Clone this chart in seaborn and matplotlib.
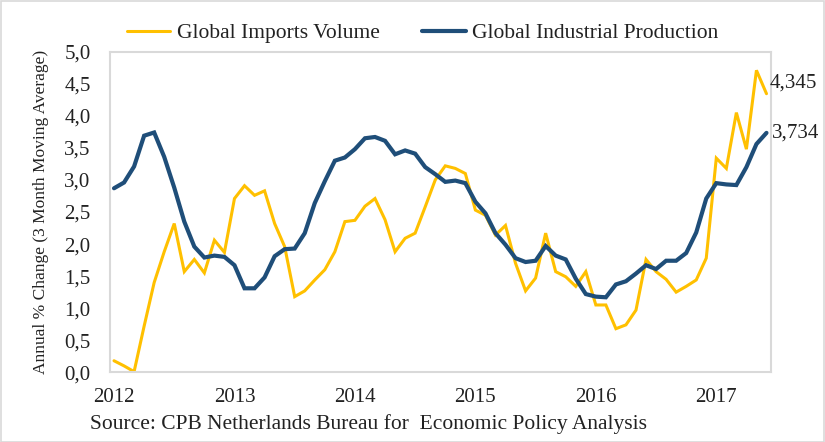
import numpy as np
import pandas as pd
import matplotlib
matplotlib.use("Agg")
import matplotlib.pyplot as plt
import seaborn as sns
from matplotlib.patches import Rectangle
from matplotlib.lines import Line2D

# ---- data (monthly, Jan 2012 - Jun 2017) ----
years = [2012, 2013, 2014, 2015, 2016, 2017]
imports_volume = [
    0.18, 0.10, 0.01, 0.72, 1.40, 1.88, 2.32, 1.57, 1.76, 1.55, 2.06, 1.87,
    2.71, 2.91, 2.76, 2.83, 2.32, 1.96, 1.18, 1.27, 1.44, 1.60, 1.88, 2.35,
    2.37, 2.59, 2.71, 2.38, 1.88, 2.09, 2.17, 2.58, 3.00, 3.22, 3.18, 3.10,
    2.53, 2.45, 2.14, 2.29, 1.70, 1.27, 1.47, 2.17, 1.57, 1.49, 1.34, 1.57,
    1.05, 1.05, 0.68, 0.74, 0.97, 1.76, 1.57, 1.45, 1.25, 1.34, 1.44, 1.78,
    3.34, 3.18, 4.05, 3.48, 4.71, 4.345,
]
industrial_production = [
    2.87, 2.96, 3.21, 3.69, 3.74, 3.36, 2.88, 2.35, 1.96, 1.79, 1.82, 1.80,
    1.67, 1.31, 1.31, 1.48, 1.81, 1.92, 1.93, 2.17, 2.64, 2.98, 3.30, 3.35,
    3.48, 3.65, 3.67, 3.61, 3.40, 3.46, 3.41, 3.20, 3.09, 2.97, 2.99, 2.95,
    2.66, 2.48, 2.17, 1.99, 1.78, 1.72, 1.74, 1.97, 1.82, 1.76, 1.46, 1.22,
    1.18, 1.17, 1.37, 1.42, 1.54, 1.67, 1.61, 1.74, 1.74, 1.86, 2.18, 2.71,
    2.95, 2.93, 2.92, 3.20, 3.56, 3.734,
]
series_names = ["Global Imports Volume", "Global Industrial Production"]
end_labels = ["4,345", "3,734"]
y_ticks = [0.0, 0.5, 1.0, 1.5, 2.0, 2.5, 3.0, 3.5, 4.0, 4.5, 5.0]

months = np.arange(len(imports_volume))
df = pd.DataFrame({
    "month": np.concatenate([months, months]),
    "value": imports_volume + industrial_production,
    "series": [series_names[0]] * len(months) + [series_names[1]] * len(months),
})

sns.set_theme(style="white")
plt.rcParams["font.family"] = ["Liberation Serif", "DejaVu Serif"]

colors = {series_names[0]: "#FFC000", series_names[1]: "#1F4E79"}
widths = {series_names[0]: 2.2, series_names[1]: 3.0}
txt = "#222222"

fig = plt.figure(figsize=(8.25, 4.42), dpi=100)
ax = fig.add_axes([110 / 825, 1 - 372.3 / 442, (771 - 110) / 825, (372.3 - 51.7) / 442])

sns.lineplot(data=df, x="month", y="value", hue="series", palette=colors,
             ax=ax, legend=False, estimator=None, sort=False)
for line, name in zip(ax.get_lines(), series_names):
    line.set_linewidth(widths[name])
    line.set_solid_joinstyle("miter")

ax.set_xlim(-0.4, 65.45)
ax.set_ylim(0, 5)
ax.set_xticks([12 * k for k in range(len(years))])
ax.set_xticklabels([str(y) for y in years])
ax.set_yticks(y_ticks)
ax.set_yticklabels([f"{v:.1f}".replace(".", ",") for v in y_ticks])
ax.tick_params(axis="x", length=0, pad=11, labelsize=15, colors=txt)
ax.tick_params(axis="y", length=0, pad=14, labelsize=15, colors=txt)
ax.set_xlabel("")
ax.set_ylabel("Annual % Change (3 Month Moving Average)", fontsize=12.5, color=txt, labelpad=11)
for sp in ax.spines.values():
    sp.set_color("#d9d9d9")
    sp.set_linewidth(1.5)
ax.grid(False)

# end labels
last = len(months) - 1
ax.annotate(end_labels[0], xy=(last, imports_volume[-1]), xytext=(2, 8),
            textcoords="offset points", fontsize=15, va="center", ha="left",
            color=txt, annotation_clip=False)
ax.annotate(end_labels[1], xy=(last, industrial_production[-1]), xytext=(4, 0),
            textcoords="offset points", fontsize=15, va="center", ha="left",
            color=txt, annotation_clip=False)

# legend
handles = [Line2D([], [], color=colors[n], lw=widths[n]) for n in series_names]
fig.legend(handles, series_names, loc="center left",
           bbox_to_anchor=(127 / 825, 1 - 33 / 442), ncol=2, frameon=False,
           fontsize=15.5, handlelength=2.0, handletextpad=0.3, columnspacing=2.0,
           borderaxespad=0, borderpad=0, labelcolor=txt)

fig.text(90 / 825, 1 - 424 / 442, "Source: CPB Netherlands Bureau for  Economic Policy Analysis",
         fontsize=15.5, va="center", ha="left", color=txt)

fig.patches.append(Rectangle((0.5 / 825, 0.5 / 442), 1 - 1.5 / 825, 1 - 1.5 / 442,
                             transform=fig.transFigure, fill=False,
                             edgecolor="#d9d9d9", linewidth=1.2))

fig.savefig("out.png", dpi=100)
